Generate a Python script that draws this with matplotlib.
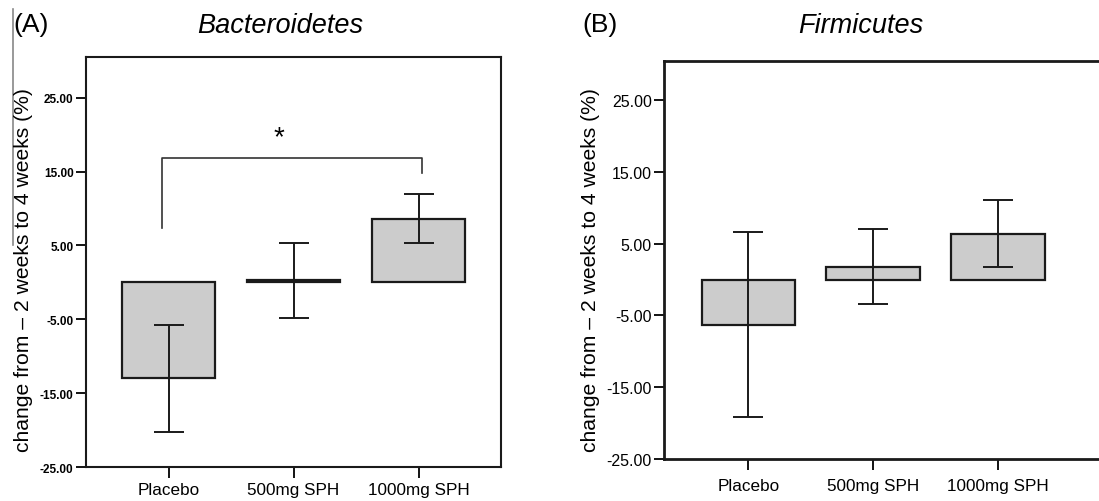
import matplotlib.pyplot as plt

plt.rcParams['font.family'] = ['Liberation Sans', 'DejaVu Sans']

groups = ['Placebo', '500mg SPH', '1000mg SPH']
yticks = [-25, -15, -5, 5, 15, 25]

# Bacteroidetes: mean change and error bar half-width
bact_mean = [-13.0, 0.25, 8.6]
bact_err = [7.25, 5.1, 3.3]

# Firmicutes
firm_mean = [-6.3, 1.8, 6.4]
firm_err = [12.9, 5.25, 4.65]

# significance bracket (Placebo vs 1000mg SPH)
sig_pair = [0, 2]
sig_top = 16.85
sig_feet = [7.4, 14.8]

ylabel = 'change from \u2013 2 weeks to 4 weeks (%)'


def draw_panel(ax, means, errs, tick_size, tick_weight, spine_w, xpad, xlim):
    x = list(range(len(groups)))
    ax.bar(x, means, width=0.75, color='#cccccc', edgecolor='#1a1a1a',
           linewidth=1.6, zorder=2)
    ax.errorbar(x, means, yerr=errs, fmt='none', ecolor='#1a1a1a',
                elinewidth=1.4, capsize=11, capthick=1.4, zorder=3)
    ax.set_xlim(*xlim)
    ax.set_ylim(-25, 30.5)
    ax.set_yticks(yticks)
    ax.set_yticklabels(['%.2f' % v for v in yticks], fontsize=tick_size,
                       fontweight=tick_weight)
    ax.set_xticks(x)
    ax.set_xticklabels(groups, fontsize=12.3)
    ax.tick_params(axis='y', length=7, width=1.3, pad=2)
    ax.tick_params(axis='x', length=8, width=1.3, pad=xpad)
    for s in ax.spines.values():
        s.set_linewidth(spine_w)
        s.set_color('#1a1a1a')


fig = plt.figure(figsize=(10.99, 5.02), dpi=100)

ax1 = fig.add_axes([0.0783, 0.0677, 0.3776, 0.8167])
draw_panel(ax1, bact_mean, bact_err, 8.5, 'bold', 1.5, 3, (-0.66, 2.66))
ax1.plot([sig_pair[0] - 0.05, sig_pair[0] - 0.05, sig_pair[1] + 0.03, sig_pair[1] + 0.03],
         [sig_feet[0], sig_top, sig_top, sig_feet[1]], color='#333333', lw=1.2)
ax1.text(0.886, 19.6, '*', ha='center', va='center', fontsize=20)

# panel B runs past the right edge of the picture (right spine cut off)
ax2 = fig.add_axes([0.6045, 0.0837, 0.4147, 0.7933])
draw_panel(ax2, firm_mean, firm_err, 11.5, 'normal', 2.0, 6, (-0.674, 2.98))

fig.text(0.0125, 0.975, '(A)', fontsize=19, ha='left', va='top')
fig.text(0.2548, 0.975, 'Bacteroidetes', fontsize=19.5, style='italic', ha='center', va='top')
fig.text(0.5295, 0.975, '(B)', fontsize=19, ha='left', va='top')
fig.text(0.783, 0.975, 'Firmicutes', fontsize=19.5, style='italic', ha='center', va='top')

fig.text(0.021, 0.463, ylabel, rotation=90, fontsize=15.2, ha='center', va='center')
fig.text(0.537, 0.463, ylabel, rotation=90, fontsize=15.2, ha='center', va='center')

# thin grey rule at the left edge of panel A
fig.add_artist(plt.Line2D([0.0118, 0.0118], [0.51, 0.98], color='#888888', lw=1.2))

fig.savefig('out.png', dpi=100)
